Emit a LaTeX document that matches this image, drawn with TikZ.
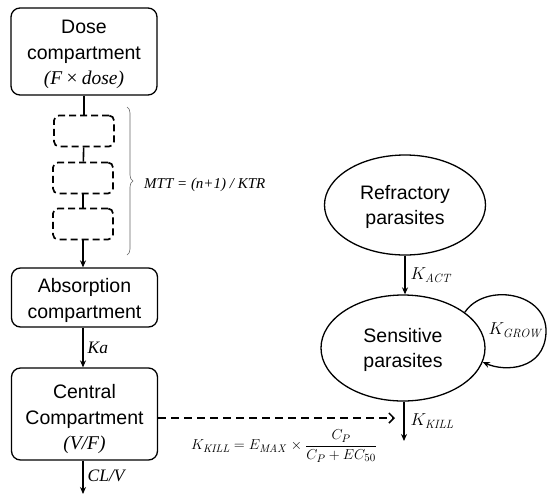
\documentclass[tikz,border=0pt]{standalone}
\usepackage[no-math]{fontspec}
\setmainfont{Liberation Sans}
\newfontfamily\serifit{Liberation Serif}
\usetikzlibrary{shapes.geometric,arrows.meta,decorations.pathreplacing}
\begin{document}
\begin{tikzpicture}[x=1pt,y=-1pt,
  cbox/.style={draw, rounded corners=9pt, line width=1.3pt, minimum width=146pt, inner sep=0pt},
  btxt/.style={align=center, font=\fontsize{19.5}{25.5}\selectfont, inner sep=0pt},
  dbox/.style={draw, dash pattern=on 7pt off 4pt, rounded corners=5pt, line width=1.7pt, minimum width=60pt, minimum height=31pt, inner sep=0pt},
  ell/.style={draw, ellipse, line width=1.3pt, inner sep=0pt},
  arr/.style={line width=1.3pt, -{Stealth[length=7pt,width=6pt]}},
  con/.style={line width=1.6pt},
  lab/.style={font=\fontsize{17}{20}\selectfont, inner sep=1pt},
  ser/.style={font=\serifit\itshape\fontsize{17.5}{20}\selectfont, inner sep=1pt}
]
\useasboundingbox (0,0) rectangle (548,496);
\node[cbox, minimum height=87pt] (dose) at (84,51.5) {};
\node[btxt] (dosetxt) at ([yshift=-3pt]dose.center) {Dose\\compartment\\{\serifit\itshape (F\,×\,dose)}};
\node[dbox] (t1) at (84,131) {};
\node[dbox] (t2) at (83,178) {};
\node[dbox] (t3) at (83,224) {};
\node[cbox, minimum height=59pt] (abs) at (84.5,297.5) {};
\node[btxt] (abstxt) at ([yshift=-3pt]abs.center) {Absorption\\compartment};
\node[cbox, minimum height=92pt] (cen) at (84.5,414) {};
\node[btxt] (centxt) at ([yshift=-5pt]cen.center) {Central\\Compartment\\{\serifit\itshape (V/F)}};
\draw[con] (dose.south -| t1.north) -- (t1.north);
\draw[con] (t1) -- (t2);
\draw[con] (t2) -- (t3);
\draw[arr] (t3.south) -- (t3.south |- abs.north);
\draw[arr] (abs.south -| t3.south) -- node[ser, right=3pt] {Ka} (t3.south |- cen.north);
\coordinate (clend) at (83,494);
\draw[arr] (cen.south -| t3.south) -- node[ser, right=3pt, pos=0.45] {CL/V} (clend);
\draw[gray!80!black, line width=0.6pt, decorate, decoration={brace, amplitude=6pt}] (127,107) -- (127,255) coordinate[midway] (bmid);
\node[anchor=west, font=\serifit\itshape\fontsize{15}{17}\selectfont, inner sep=0pt] (mtt) at (144,185) {MTT = (n+1) / KTR};
\node[ell, minimum width=161pt, minimum height=100pt] (ref) at (405,205) {};
\node[btxt] (reftxt) at ([yshift=-2pt]ref.center) {Refractory\\parasites};
\node[ell, minimum width=164pt, minimum height=106pt] (sen) at (403,348) {};
\node[btxt] (sentxt) at ([yshift=-2pt]sen.center) {Sensitive\\parasites};
\draw[arr] (ref.south) -- node[lab, right=4pt] {$K_{\mathit{ACT}}$} (sen.north -| ref.south);
\draw[arr] (sen.30) .. controls (485,282) and (548,292) .. (546,333) .. controls (544,370) and (505,372) .. (sen.-10);
\node[lab] (grow) at (516,330) {$K_{\mathit{GROW}}$};
\coordinate (kill) at (404,441);
\draw[arr] (sen.south -| kill) -- node[lab, right=5pt, pos=0.5] {$K_{\mathit{KILL}}$} (kill);
\coordinate (dend) at (395,418);
\draw[line width=1.5pt, dash pattern=on 8pt off 5pt, -{Straight Barb[length=5pt,width=10pt]}] (cen.east |- dend) -- (dend);
\node[font=\fontsize{15}{17}\selectfont, inner sep=0pt] (form) at (284,446) {$K_{\mathit{KILL}} = E_{\mathit{MAX}} \times {\displaystyle\frac{C_P}{C_P + EC_{50}}}$};
\end{tikzpicture}
\end{document}
